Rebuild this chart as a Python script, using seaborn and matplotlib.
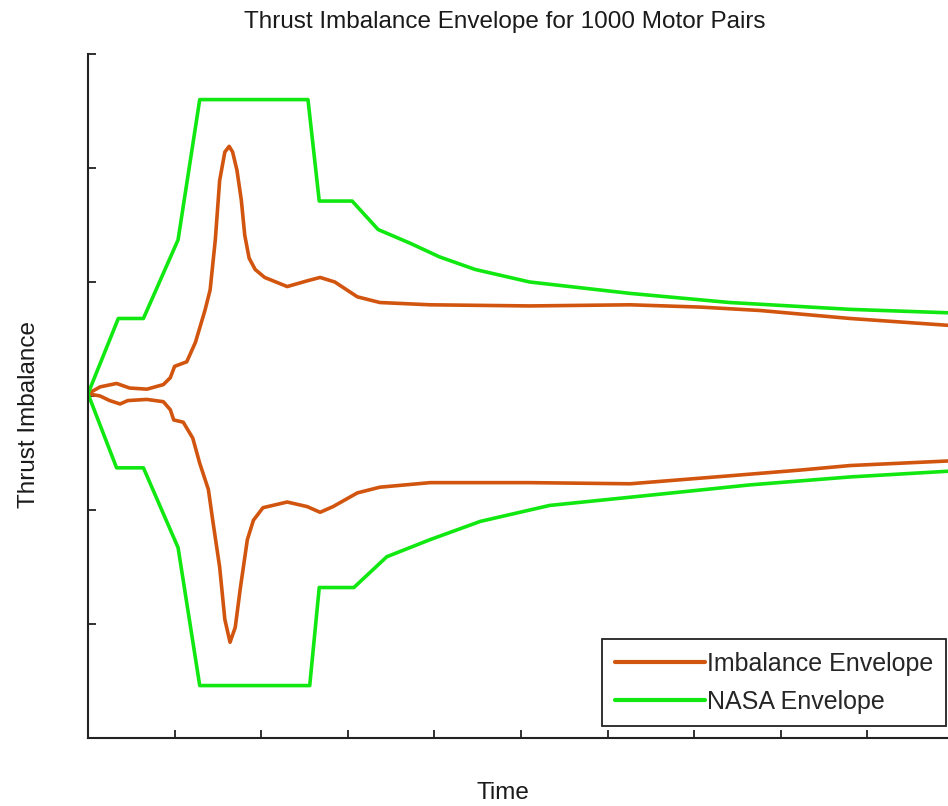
import numpy as np
import pandas as pd
import matplotlib
matplotlib.use("Agg")
import matplotlib.pyplot as plt
import seaborn as sns

# Envelope traces (time, imbalance)
nasa_upper_t = [0.00, 0.35, 0.64, 1.04, 1.29, 2.54, 2.67, 3.05, 3.35, 3.72, 4.06, 4.47, 5.10, 6.26, 7.41, 8.80, 9.93]
nasa_upper_y = [0.02, 0.68, 0.68, 1.37, 2.60, 2.60, 1.71, 1.71, 1.46, 1.34, 1.22, 1.11, 1.00, 0.90, 0.82, 0.76, 0.73]

nasa_lower_t = [0.00, 0.33, 0.64, 1.04, 1.29, 2.56, 2.67, 3.07, 3.45, 3.95, 4.53, 5.33, 6.49, 7.64, 8.80, 9.93]
nasa_lower_y = [0.02, -0.63, -0.63, -1.33, -2.54, -2.54, -1.68, -1.68, -1.41, -1.26, -1.10, -0.96, -0.87, -0.78, -0.71, -0.66]

imb_upper_t = [0.00, 0.14, 0.33, 0.48, 0.68, 0.87, 0.95, 1.00, 1.14, 1.24, 1.35, 1.41, 1.47, 1.52,
               1.58, 1.63, 1.67, 1.72, 1.77, 1.81, 1.86, 1.93, 2.04, 2.30, 2.53, 2.68, 2.85, 3.11,
               3.37, 3.95, 5.10, 6.26, 7.07, 7.76, 8.80, 9.93]
imb_upper_y = [0.02, 0.08, 0.11, 0.07, 0.06, 0.10, 0.16, 0.26, 0.30, 0.47, 0.75, 0.93, 1.37, 1.89,
               2.14, 2.19, 2.14, 1.98, 1.72, 1.41, 1.21, 1.11, 1.04, 0.96, 1.01, 1.04, 1.00, 0.87,
               0.82, 0.80, 0.79, 0.80, 0.78, 0.75, 0.68, 0.62]

imb_lower_t = [0.00, 0.14, 0.25, 0.37, 0.46, 0.68, 0.87, 0.95, 0.99, 1.10, 1.21, 1.29, 1.39, 1.44,
               1.52, 1.58, 1.64, 1.70, 1.76, 1.84, 1.91, 2.02, 2.30, 2.53, 2.68, 2.83, 3.11, 3.37,
               3.95, 5.10, 6.26, 7.41, 8.22, 8.80, 9.93]
imb_lower_y = [0.02, 0.00, -0.04, -0.07, -0.04, -0.03, -0.05, -0.12, -0.21, -0.23, -0.37, -0.59, -0.82, -1.09,
               -1.50, -1.96, -2.16, -2.03, -1.68, -1.26, -1.09, -0.98, -0.93, -0.97, -1.02, -0.97, -0.85, -0.80,
               -0.76, -0.76, -0.77, -0.70, -0.65, -0.61, -0.57]

series_names = ["Imbalance Envelope", "NASA Envelope"]
series_colors = ["#D2550F", "#11E811"]

frames = []
for name, branch, t, y in [
    (series_names[0], "upper", imb_upper_t, imb_upper_y),
    (series_names[0], "lower", imb_lower_t, imb_lower_y),
    (series_names[1], "upper", nasa_upper_t, nasa_upper_y),
    (series_names[1], "lower", nasa_lower_t, nasa_lower_y),
]:
    frames.append(pd.DataFrame({"Time": t, "Imbalance": y,
                                "series": name, "branch": branch}))
df = pd.concat(frames, ignore_index=True)

sns.set_theme(style="ticks")
plt.rcParams["font.family"] = ["Liberation Sans", "DejaVu Sans"]

fig = plt.figure(figsize=(9.48, 8.06), dpi=100)
ax = fig.add_axes([88 / 948, 68 / 806, 1 - 88 / 948, (738 - 54) / 806])

sns.lineplot(data=df, x="Time", y="Imbalance", hue="series", units="branch",
             estimator=None, sort=False, hue_order=series_names,
             palette=dict(zip(series_names, series_colors)),
             linewidth=2.6, ax=ax)

ax.set_xlim(0, 9.93)
ax.set_ylim(-3, 3)
ax.set_xticks(np.arange(1, 10))
ax.set_yticks(np.arange(-3, 4))
ax.set_xticklabels([])
ax.set_yticklabels([])
ax.tick_params(direction="in", length=6, width=1.3, color="#222222")
for side in ("top", "right"):
    ax.spines[side].set_visible(False)
for side in ("left", "bottom"):
    ax.spines[side].set_linewidth(1.5)
    ax.spines[side].set_color("#222222")

fig.text(505 / 948, 1 - 22 / 806, "Thrust Imbalance Envelope for 1000 Motor Pairs",
         fontsize=17.5, ha="center", va="center", color="#1a1a1a")
ax.set_xlabel("Time", fontsize=17.5, color="#1a1a1a")
ax.set_ylabel("Thrust Imbalance", fontsize=17.5, color="#1a1a1a")
ax.xaxis.set_label_coords((503 - 88) / 860, (738 - 782) / 684)
ax.yaxis.set_label_coords((40 - 88) / 860, (738 - 415) / 684)

leg = ax.legend(loc="lower right", bbox_to_anchor=((946 - 88) / 860, (738 - 726) / 684),
                borderaxespad=0, fontsize=18,
                handlelength=3.6, handletextpad=0.1, borderpad=0.5,
                labelspacing=0.55, fancybox=False, framealpha=1, edgecolor="#222222")
leg.get_frame().set_linewidth(1.3)
leg._legend_box.align = "left"
for line in leg.get_lines():
    line.set_linewidth(3)
leg.get_frame().set_width(leg.get_frame().get_width())

fig.savefig("out.png", dpi=100)
